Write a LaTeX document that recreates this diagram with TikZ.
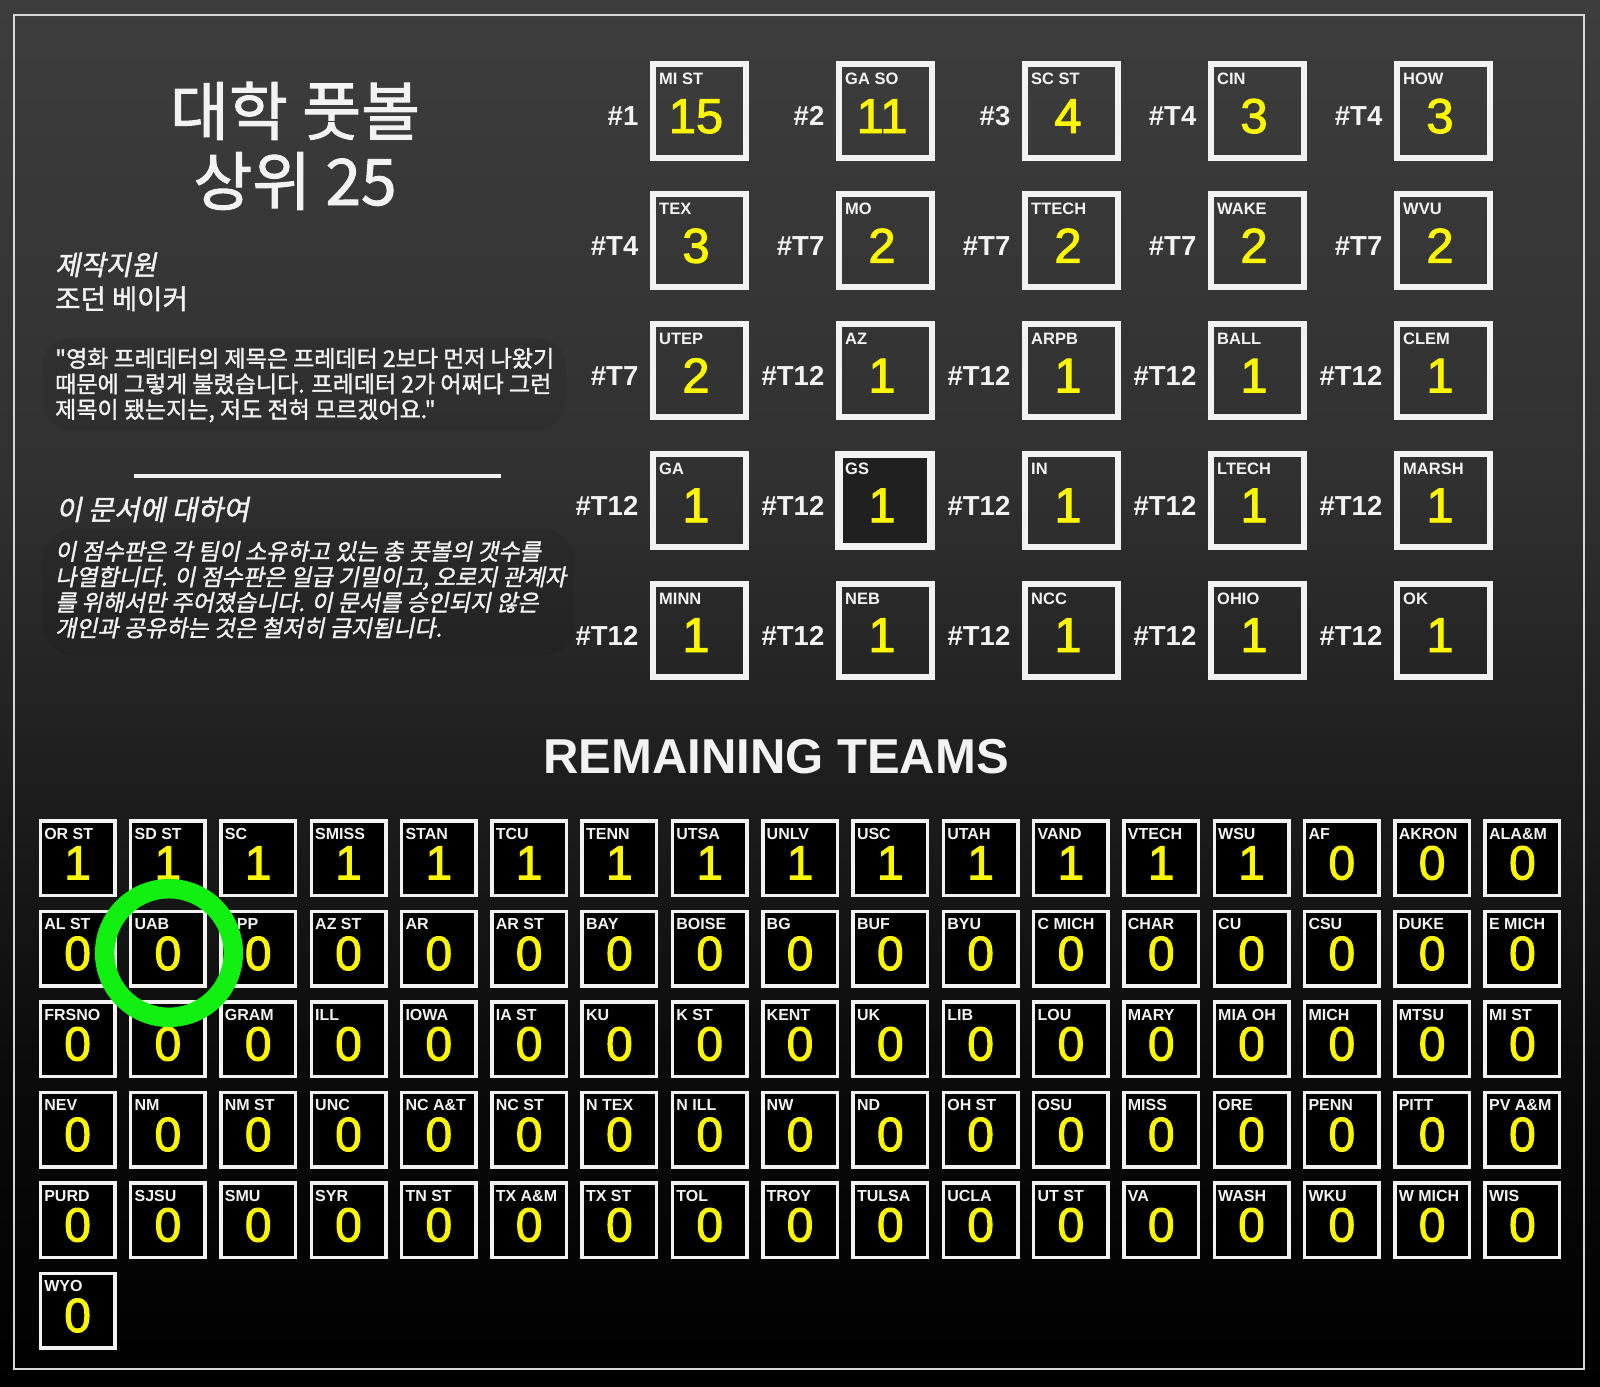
\documentclass[tikz,border=0pt]{standalone}
\usepackage{fontspec}
\setmainfont{Liberation Sans}
\newfontfamily\digf{Liberation Sans}[FakeBold=2]
\newfontfamily\krt{Noto Sans CJK KR}[FakeBold=1.5]
\newfontfamily\krm{Noto Sans CJK KR}[FakeBold=1.5]
\newfontfamily\krit{Noto Sans CJK KR}[FakeSlant=0.2,FakeBold=1.5]
\definecolor{ylw}{RGB}{250,246,0}
\definecolor{boxw}{RGB}{242,242,242}
\definecolor{brd}{RGB}{215,215,215}
\definecolor{ringg}{RGB}{18,240,18}
\definecolor{bgtop}{RGB}{61,61,61}
\definecolor{bgb4}{RGB}{49,49,49}
\definecolor{bgb3}{RGB}{30,30,30}
\definecolor{bgb2}{RGB}{10,10,10}
\definecolor{bgbot}{RGB}{0,0,0}
\definecolor{gsfill}{RGB}{32,32,32}
\pgfdeclareverticalshading{bgshade}{100bp}{color(0bp)=(bgbot); color(25bp)=(bgbot); color(36bp)=(bgb2); color(47bp)=(bgb3); color(58bp)=(bgb4); color(75bp)=(bgtop); color(100bp)=(bgtop)}
\tikzset{
 topbox/.style={draw=boxw, line width=6pt, minimum size=93pt, inner sep=0pt, outer sep=0pt},
 botbox/.style={draw=boxw, fill=black, line width=3.5pt, minimum size=74.5pt, inner sep=0pt, outer sep=0pt},
 tname/.style={text=boxw, anchor=base west, inner sep=0pt, font=\bfseries\fontsize{16.5}{18}\selectfont},
 tdig/.style={text=ylw, anchor=base, inner sep=0pt, font=\digf\fontsize{49}{50}\selectfont},
 trank/.style={text=boxw, anchor=base east, inner sep=0pt, font=\bfseries\fontsize{27.5}{30}\selectfont},
 bname/.style={text=boxw, anchor=base west, inner sep=0pt, font=\bfseries\fontsize{16}{18}\selectfont},
 bdig/.style={text=ylw, anchor=base, inner sep=0pt, font=\digf\fontsize{48}{50}\selectfont},
 krtext/.style={text=boxw, anchor=base west, inner sep=0pt},
 ringstyle/.style={circle, draw=ringg, line width=19.5pt, minimum size=128.6pt, inner sep=0pt},
}
\begin{document}
\begin{tikzpicture}[x=1pt,y=-1pt]
\useasboundingbox (0,0) rectangle (1600,1386);
\shade[shading=bgshade] (0,0) rectangle (1600,1386);
\draw[draw=brd, line width=2.5pt] (14,15) rectangle (1584,1369);

% subtle smudges behind texts
\fill[black, opacity=0.06, rounded corners=28pt] (42,338) rectangle (566,430);
\fill[black, opacity=0.06, rounded corners=30pt] (42,530) rectangle (575,655);

% title and left texts
\node[text=boxw, anchor=base, inner sep=0pt, font=\krt\fontsize{64}{70}\selectfont] (title1) at (295,135) {대학 풋볼};
\node[text=boxw, anchor=base, inner sep=0pt, font=\krt\fontsize{64}{70}\selectfont] (title2) at (295,205) {상위 25};
\node[krtext, font=\krit\fontsize{27.5}{30}\selectfont] (credit1) at (55,275) {제작지원};
\node[krtext, font=\krm\fontsize{27.5}{30}\selectfont] (credit2) at (55,309) {조던 베이커};
\node[krtext, font=\krm\fontsize{23}{25}\selectfont] (q1) at (55,367) {"영화 프레데터의 제목은 프레데터 2보다 먼저 나왔기};
\node[krtext, font=\krm\fontsize{23}{25}\selectfont] (q2) at (55,392.5) {때문에 그렇게 불렸습니다. 프레데터 2가 어쩌다 그런};
\node[krtext, font=\krm\fontsize{23}{25}\selectfont] (q3) at (55,418) {제목이 됐는지는, 저도 전혀 모르겠어요."};
\coordinate (hl1) at (134,476);
\coordinate (hl2) at (501,476);
\draw[boxw, line width=4pt] (hl1) -- (hl2);
\node[krtext, font=\krit\fontsize{28}{30}\selectfont] (about) at (56,520) {이 문서에 대하여};
\node[krtext, font=\krit\fontsize{23}{26}\selectfont] (b1) at (55,560) {이 점수판은 각 팀이 소유하고 있는 총 풋볼의 갯수를};
\node[krtext, font=\krit\fontsize{23}{26}\selectfont] (b2) at (55,585.5) {나열합니다. 이 점수판은 일급 기밀이고, 오로지 관계자};
\node[krtext, font=\krit\fontsize{23}{26}\selectfont] (b3) at (55,611) {를 위해서만 주어졌습니다. 이 문서를 승인되지 않은};
\node[krtext, font=\krit\fontsize{23}{26}\selectfont] (b4) at (55,636.5) {개인과 공유하는 것은 철저히 금지됩니다.};

% top 25 grid
\foreach \rk/\nm/\sc [count=\k from 0] in {
 \#1/MI ST/15, \#2/GA SO/11, \#3/SC ST/4, \#T4/CIN/3, \#T4/HOW/3,
 \#T4/TEX/3, \#T7/MO/2, \#T7/TTECH/2, \#T7/WAKE/2, \#T7/WVU/2,
 \#T7/UTEP/2, \#T12/AZ/1, \#T12/ARPB/1, \#T12/BALL/1, \#T12/CLEM/1,
 \#T12/GA/1, \#T12/GS/1, \#T12/IN/1, \#T12/LTECH/1, \#T12/MARSH/1,
 \#T12/MINN/1, \#T12/NEB/1, \#T12/NCC/1, \#T12/OHIO/1, \#T12/OK/1}{
  \pgfmathsetmacro\cx{699+186*mod(\k,5)}
  \pgfmathsetmacro\cy{111+129.75*floor(\k/5)}
  \ifnum\k=16
    \node[topbox, fill=gsfill, line width=7.5pt, minimum size=92pt] (t\k) at (\cx,\cy) {};
  \else
    \node[topbox] (t\k) at (\cx,\cy) {};
  \fi
  \node[tname] (tn\k) at ([shift={(-40,-26)}]t\k.center) {\nm};
  \node[tdig] (td\k) at ([shift={(-3,22)}]t\k.center) {\sc};
  \node[trank] (tr\k) at ([shift={(-60.5,15)}]t\k.center) {\rk};
}

\node[text=boxw, anchor=base, inner sep=0pt, font=\bfseries\fontsize{49}{52}\selectfont] (remain) at (776,773) {REMAINING TEAMS};

% remaining teams grid
\foreach \nm/\v [count=\k from 0] in {
 OR ST/1, SD ST/1, SC/1, SMISS/1, STAN/1, TCU/1, TENN/1, UTSA/1, UNLV/1, USC/1, UTAH/1, VAND/1, VTECH/1, WSU/1, AF/0, AKRON/0, ALA\&M/0,
 AL ST/0, UAB/0, PP/0, AZ ST/0, AR/0, AR ST/0, BAY/0, BOISE/0, BG/0, BUF/0, BYU/0, C MICH/0, CHAR/0, CU/0, CSU/0, DUKE/0, E MICH/0,
 FRSNO/0, X/0, GRAM/0, ILL/0, IOWA/0, IA ST/0, KU/0, K ST/0, KENT/0, UK/0, LIB/0, LOU/0, MARY/0, MIA OH/0, MICH/0, MTSU/0, MI ST/0,
 NEV/0, NM/0, NM ST/0, UNC/0, NC A\&T/0, NC ST/0, N TEX/0, N ILL/0, NW/0, ND/0, OH ST/0, OSU/0, MISS/0, ORE/0, PENN/0, PITT/0, PV A\&M/0,
 PURD/0, SJSU/0, SMU/0, SYR/0, TN ST/0, TX A\&M/0, TX ST/0, TOL/0, TROY/0, TULSA/0, UCLA/0, UT ST/0, VA/0, WASH/0, WKU/0, W MICH/0, WIS/0,
 WYO/0}{
  \pgfmathsetmacro\cx{77.6+90.3*mod(\k,17)}
  \pgfmathsetmacro\cy{858+90.5*floor(\k/17)}
  \node[botbox] (b\k) at (\cx,\cy) {};
  \node[bdig] (bd\k) at ([shift={(0,21.5)}]b\k.center) {\v};
  \ifnum\k=19 \def\lx{-21.5}\else\def\lx{-33.5}\fi
  \ifnum\k=35 \else
    \node[bname] (bn\k) at ([shift={(\lx,-19)}]b\k.center) {\nm};
  \fi
}

% green ring around UAB
\node[ringstyle] (ring) at (169,953) {};
\end{tikzpicture}
\end{document}
